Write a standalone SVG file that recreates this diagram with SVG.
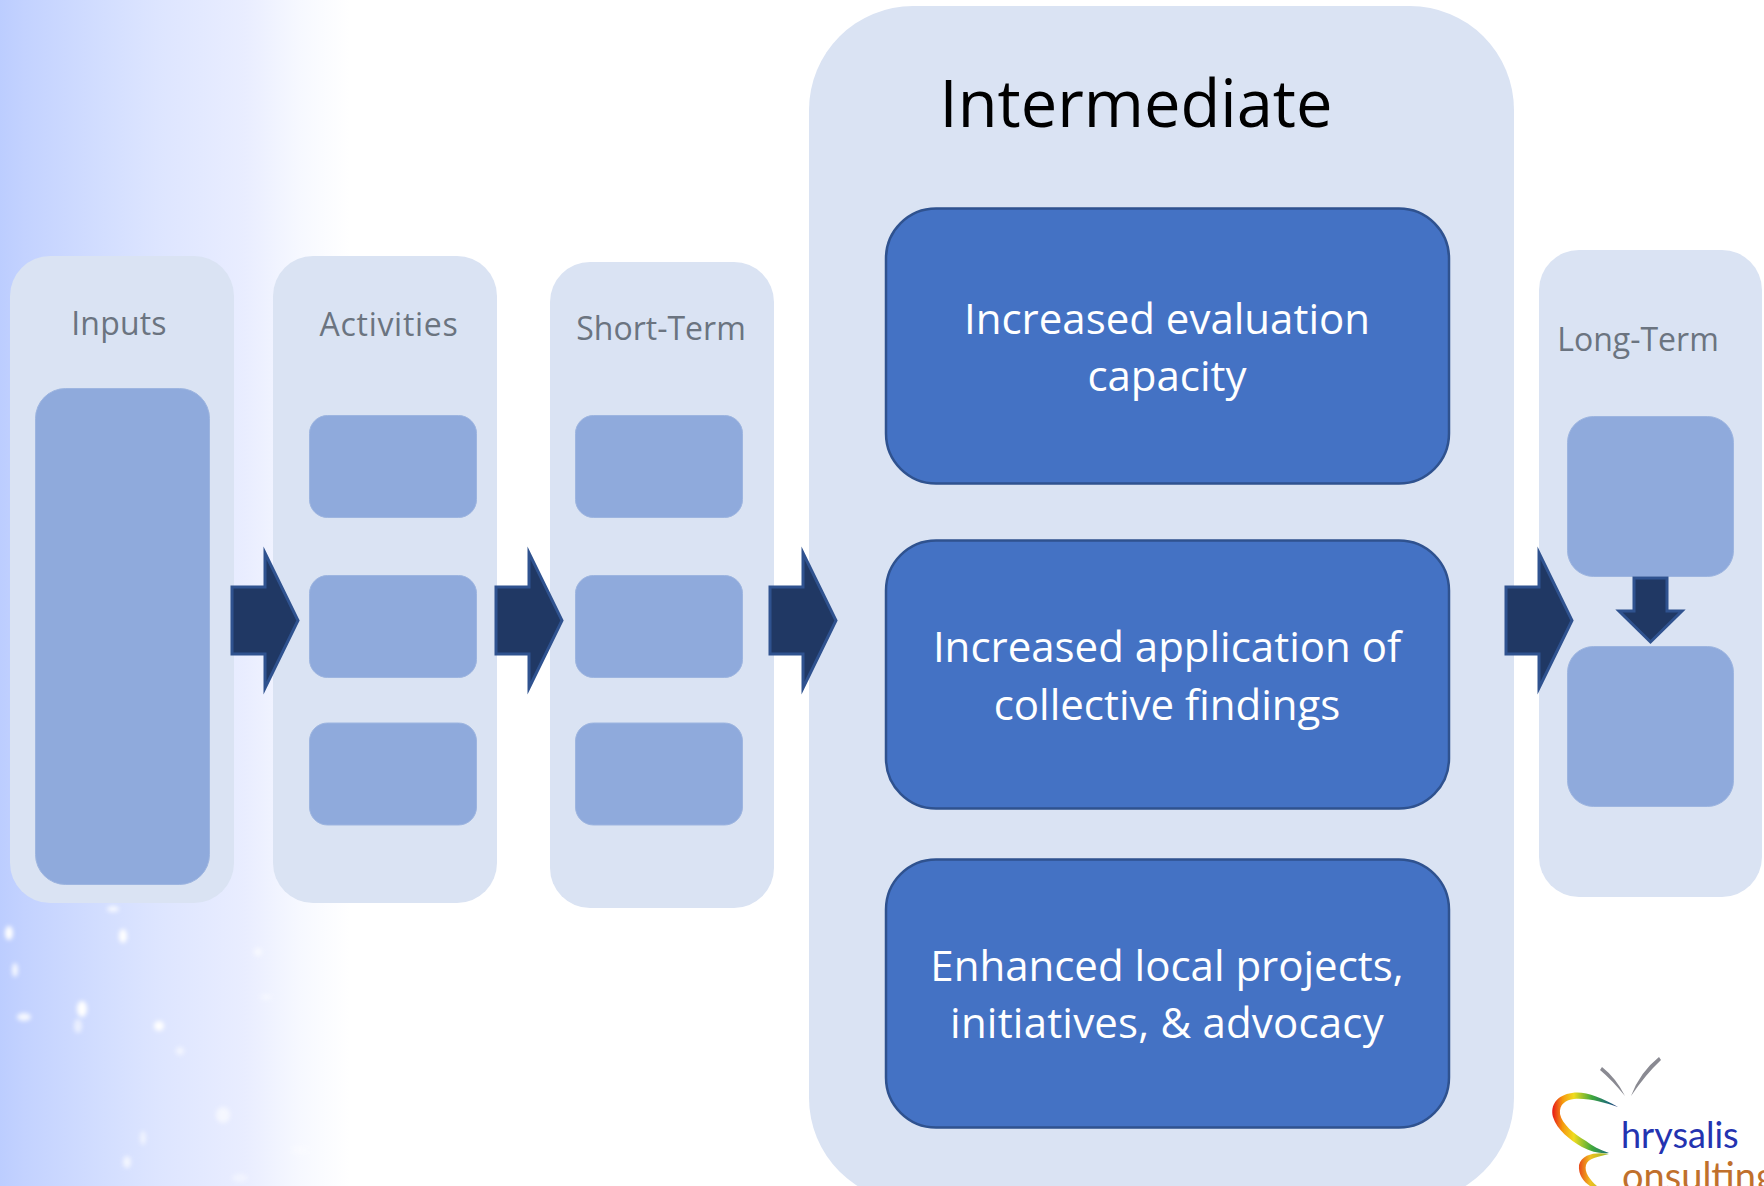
<svg xmlns="http://www.w3.org/2000/svg" width="1764" height="1186" viewBox="0 0 1764 1186">
<style>
.panel{fill:#DAE3F3}
.inner{fill:#8FAADC;stroke:#9DB5E0;stroke-width:1}
.big{fill:#4472C4;stroke:#2F528F;stroke-width:2.500}
.arrow{fill:#203864;stroke:#2F528F;stroke-width:3;stroke-linejoin:miter;stroke-miterlimit:10}
.t{font-family:"Open Sans","Noto Sans",sans-serif;text-anchor:middle}
.head{font-size:32px;fill:#6B7480}
.w{font-size:42px;fill:#fff}
.speck{fill:#fff;filter:url(#blur)}
</style>
<defs>
<linearGradient id="bg" x1="0" y1="0" x2="1" y2="0">
<stop offset="0" stop-color="#BCCDFF"/>
<stop offset="0.07" stop-color="#C3D2FF"/>
<stop offset="0.3" stop-color="#D3DEFF"/>
<stop offset="0.45" stop-color="#DDE5FF"/>
<stop offset="0.7" stop-color="#E9EDFF"/>
<stop offset="0.85" stop-color="#F6F8FF"/>
<stop offset="1" stop-color="#FFFFFF"/>
</linearGradient>
<filter id="blur" x="-150%" y="-150%" width="400%" height="400%"><feGaussianBlur stdDeviation="2.200"/></filter>
<filter id="soft" x="-10%" y="-10%" width="120%" height="120%"><feGaussianBlur stdDeviation="0.600"/></filter>
<linearGradient id="rt" gradientUnits="userSpaceOnUse" x1="1553" y1="0" x2="1618" y2="0">
<stop offset="0" stop-color="#E8201A"/>
<stop offset="0.15" stop-color="#F59A10"/>
<stop offset="0.32" stop-color="#F0DC20"/>
<stop offset="0.6" stop-color="#3FA83C"/>
<stop offset="0.85" stop-color="#1F6C78"/>
<stop offset="1" stop-color="#1F2F78"/>
</linearGradient>
<linearGradient id="rb" gradientUnits="userSpaceOnUse" x1="1578" y1="0" x2="1609" y2="0">
<stop offset="0" stop-color="#E8401A"/>
<stop offset="0.4" stop-color="#F0C020"/>
<stop offset="1" stop-color="#8FBB30"/>
</linearGradient>
</defs>
<rect id="background" width="350" height="1186" fill="url(#bg)"/>
<g id="specks">
<ellipse class="speck" cx="9" cy="933" rx="4" ry="7"/>
<ellipse class="speck" cx="15" cy="970" rx="3" ry="7" opacity=".85"/>
<ellipse class="speck" cx="24" cy="1017" rx="7" ry="4" opacity=".85"/>
<ellipse class="speck" cx="123" cy="936" rx="4" ry="7"/>
<ellipse class="speck" cx="113" cy="909" rx="6" ry="3" opacity=".8"/>
<ellipse class="speck" cx="82" cy="1009" rx="5" ry="8"/>
<ellipse class="speck" cx="78" cy="1026" rx="4" ry="7" opacity=".6"/>
<ellipse class="speck" cx="159" cy="1026" rx="5" ry="5"/>
<ellipse class="speck" cx="180" cy="1051" rx="4" ry="4" opacity=".6"/>
<ellipse class="speck" cx="223" cy="1115" rx="7" ry="8" opacity=".6"/>
<ellipse class="speck" cx="143" cy="1138" rx="3" ry="7" opacity=".6"/>
<ellipse class="speck" cx="127" cy="1162" rx="4" ry="6" opacity=".7"/>
<ellipse class="speck" cx="258" cy="952" rx="4" ry="4" opacity=".6"/>
<ellipse class="speck" cx="266" cy="997" rx="6" ry="3" opacity=".4"/>
<ellipse class="speck" cx="240" cy="1178" rx="8" ry="4" opacity=".4"/>
<ellipse class="speck" cx="300" cy="1150" rx="9" ry="4" opacity=".3"/>
</g>
<g id="inputs">
<rect class="panel" x="10" y="256" width="224" height="647" rx="40"/>
<rect class="inner" x="35.500" y="388.500" width="174" height="496" rx="30"/>
<text class="t head" x="119" y="335" letter-spacing=".2">Inputs</text>
</g>
<g id="activities">
<rect class="panel" x="273" y="256" width="224" height="647" rx="40"/>
<text class="t head" x="389" y="336" letter-spacing=".7">Activities</text>
<rect class="inner" x="309.500" y="415.500" width="167" height="102" rx="18"/>
<rect class="inner" x="309.500" y="575.500" width="167" height="102" rx="18"/>
<rect class="inner" x="309.500" y="723" width="167" height="102" rx="18"/>
</g>
<g id="short-term">
<rect class="panel" x="550" y="262" width="224" height="646" rx="40"/>
<text class="t head" x="661" y="340">Short-Term</text>
<rect class="inner" x="575.500" y="415.500" width="167" height="102" rx="18"/>
<rect class="inner" x="575.500" y="575.500" width="167" height="102" rx="18"/>
<rect class="inner" x="575.500" y="723" width="167" height="102" rx="18"/>
</g>
<g id="intermediate">
<rect class="panel" x="809" y="6" width="705" height="1196" rx="104"/>
<text class="t" x="1136" y="127" font-size="65" fill="#000">Intermediate</text>
</g>
<g id="capacity">
<rect class="big" x="886" y="208.500" width="563" height="275" rx="50"/>
<text class="t w"><tspan x="1167" y="334">Increased evaluation</tspan><tspan x="1167" y="391">capacity</tspan></text>
</g>
<g id="application">
<rect class="big" x="886" y="540.500" width="563" height="268" rx="50"/>
<text class="t w"><tspan x="1167" y="662">Increased application of</tspan><tspan x="1167" y="720">collective findings</tspan></text>
</g>
<g id="enhanced">
<rect class="big" x="886" y="859.500" width="563" height="268" rx="50"/>
<text class="t w"><tspan x="1167" y="981">Enhanced local projects,</tspan><tspan x="1167" y="1038" letter-spacing=".2">initiatives, &amp; advocacy</tspan></text>
</g>
<g id="long-term">
<rect class="panel" x="1539" y="250" width="223" height="647" rx="40"/>
<text class="t head" x="1638" y="351">Long-Term</text>
<rect class="inner" x="1567.500" y="416.500" width="166" height="160" rx="26"/>
<rect class="inner" x="1567.500" y="646.500" width="166" height="160" rx="26"/>
</g>
<g id="connectors">
<polygon class="arrow" points="232,587 265,587 265,553 298,620.500 265,688 265,654 232,654"/>
<polygon class="arrow" points="496,587 529,587 529,553 562,620.500 529,688 529,654 496,654"/>
<polygon class="arrow" points="770,587 803,587 803,553 836,620.500 803,688 803,654 770,654"/>
<polygon class="arrow" points="1506,587 1539,587 1539,553 1572,620.500 1539,688 1539,654 1506,654"/>
<polygon class="arrow" points="1634,578 1667,578 1667,611 1682,611 1650.500,642 1619,611 1634,611"/>
</g>
<g id="logo">
<g filter="url(#soft)">
<path d="M1602,1067 Q1616,1078 1625,1096 Q1612,1080 1600,1070 Z" fill="#8A8A92"/>
<path d="M1631,1096 Q1640,1072 1659,1057 L1661,1060 Q1646,1074 1631,1096 Z" fill="#8A8A92"/>
<path d="M1618,1107 C1600,1097 1585,1091 1572,1093 C1557,1095 1550,1105 1553,1117 C1557,1130 1570,1140 1582,1147 C1592,1152 1600,1154 1609,1153 C1600,1150 1592,1146 1586,1141 C1574,1134 1562,1124 1560,1114 C1559,1104 1566,1100 1574,1099 C1590,1098 1605,1103 1618,1107 Z" fill="url(#rt)"/>
<path d="M1609,1154 C1596,1152 1582,1154 1579,1165 C1578,1175 1584,1182 1590,1186 L1597,1186 C1590,1180 1584,1172 1586,1165 C1588,1158 1598,1157 1609,1154 Z" fill="url(#rb)"/>
</g>
<text x="1621" y="1148" font-family="Lato,sans-serif" font-size="36" fill="#2433B0">hrysalis</text>
<text x="1622" y="1190" font-family="Lato,sans-serif" font-size="38" fill="#C0702C">onsulting</text>
</g>
</svg>
